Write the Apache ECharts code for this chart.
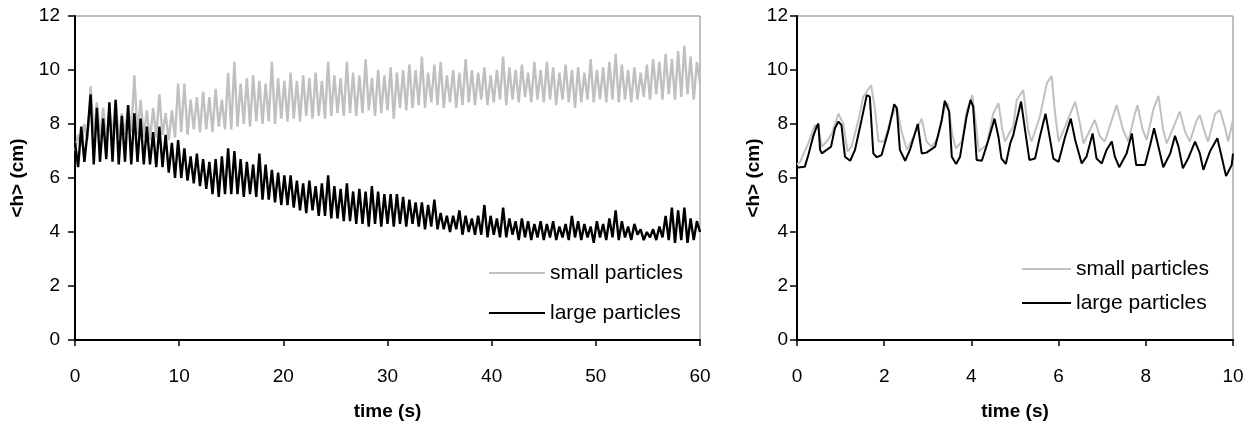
<!DOCTYPE html>
<html>
<head>
<meta charset="utf-8">
<script src="https://cdn.jsdelivr.net/npm/echarts@6/dist/echarts.min.js"></script>
<style>
html,body{margin:0;padding:0;background:#fff;}
#chart{width:1257px;height:429px;}
</style>
</head>
<body>
<div id="chart"></div>
<script>
// ---------- DATA ----------
const seriesNames = ['small particles', 'large particles'];
const yTicks = [0, 2, 4, 6, 8, 10, 12];
const leftXTicks = [0, 10, 20, 30, 40, 50, 60];
const rightXTicks = [0, 2, 4, 6, 8, 10];

// Left panel: sampled every 0.3 s from 0 to 60 s
const leftStep = 0.3;
const leftSmall = [
  7.0, 7.6, 7.2, 8.0, 7.4, 9.4, 7.6, 8.8, 7.5, 8.6,
  7.4, 8.5, 7.6, 8.9, 7.5, 8.4, 7.6, 8.7, 7.7, 9.8,
  7.6, 8.9, 7.5, 8.5, 7.4, 8.6, 7.5, 9.1, 7.6, 8.4,
  7.4, 8.5, 7.5, 9.5, 7.7, 9.5, 7.6, 8.9, 7.8, 9.0,
  7.7, 9.2, 7.8, 9.0, 7.7, 9.3, 7.9, 8.9, 7.8, 9.9,
  7.8, 10.3, 7.9, 9.5, 8.0, 9.7, 7.9, 9.8, 8.1, 9.6,
  8.0, 9.5, 8.1, 10.3, 8.0, 9.7, 8.2, 9.6, 8.1, 9.9,
  8.2, 9.6, 8.1, 9.8, 8.3, 9.7, 8.2, 9.9, 8.3, 9.6,
  8.2, 10.3, 8.3, 9.8, 8.4, 9.7, 8.3, 10.3, 8.4, 9.9,
  8.3, 9.8, 8.4, 10.4, 8.5, 9.7, 8.3, 10.0, 8.4, 9.8,
  8.5, 10.1, 8.2, 9.9, 8.6, 10.0, 8.5, 10.2, 8.6, 10.0,
  8.7, 10.5, 8.6, 9.9, 8.8, 10.2, 8.7, 10.3, 8.6, 9.8,
  8.8, 10.0, 8.6, 9.9, 8.7, 10.4, 8.8, 10.0, 8.7, 9.9,
  8.9, 10.1, 8.7, 9.8, 8.8, 10.0, 8.9, 10.5, 8.7, 10.1,
  8.9, 10.0, 8.8, 10.2, 9.0, 9.9, 8.8, 10.3, 8.9, 10.0,
  8.8, 10.3, 8.9, 10.1, 8.7, 9.9, 8.9, 10.2, 8.8, 10.0,
  8.6, 10.1, 8.8, 9.9, 8.9, 10.4, 8.8, 10.0, 8.9, 10.1,
  8.8, 10.3, 8.9, 10.6, 8.8, 10.2, 8.9, 10.0, 8.8, 10.1,
  8.9, 9.9, 9.0, 10.2, 8.9, 10.4, 9.1, 10.3, 8.9, 10.6,
  9.1, 10.4, 8.9, 10.7, 9.0, 10.9, 9.1, 10.5, 8.9, 10.3,
  9.5
];
const leftLarge = [
  7.3, 6.4, 7.9, 6.6, 7.7, 9.1, 6.5, 8.6, 6.6, 8.2,
  6.7, 8.8, 6.6, 8.9, 6.5, 8.3, 6.6, 8.7, 6.5, 8.4,
  6.6, 8.2, 6.5, 7.9, 6.5, 7.7, 6.4, 7.9, 6.4, 7.6,
  6.2, 7.3, 6.0, 7.4, 6.0, 7.1, 5.9, 6.8, 5.8, 6.9,
  5.7, 6.7, 5.6, 6.6, 5.4, 6.7, 5.3, 6.8, 5.4, 7.1,
  5.4, 7.0, 5.4, 6.7, 5.3, 6.6, 5.4, 6.5, 5.3, 6.9,
  5.2, 6.5, 5.2, 6.3, 5.1, 6.2, 5.0, 6.1, 5.0, 6.1,
  4.9, 5.9, 4.8, 5.8, 4.7, 5.9, 4.8, 5.7, 4.6, 5.8,
  4.6, 6.1, 4.5, 5.7, 4.5, 5.6, 4.4, 5.8, 4.4, 5.5,
  4.3, 5.6, 4.3, 5.5, 4.2, 5.7, 4.3, 5.5, 4.2, 5.4,
  4.3, 5.4, 4.2, 5.4, 4.3, 5.3, 4.2, 5.2, 4.3, 5.1,
  4.2, 5.1, 4.1, 5.0, 4.2, 5.2, 4.1, 4.7, 4.1, 4.6,
  4.0, 4.6, 4.1, 4.8, 3.9, 4.6, 4.0, 4.5, 3.9, 4.6,
  3.9, 5.0, 3.8, 4.6, 3.9, 4.5, 3.8, 4.9, 3.8, 4.5,
  3.9, 4.4, 3.7, 4.5, 3.8, 4.4, 3.7, 4.3, 3.8, 4.4,
  3.7, 4.3, 3.8, 4.4, 3.7, 4.2, 3.8, 4.3, 3.7, 4.6,
  3.8, 4.4, 3.7, 4.3, 3.8, 4.2, 3.6, 4.4, 3.8, 4.3,
  3.7, 4.5, 3.8, 4.8, 3.7, 4.4, 3.8, 4.2, 3.7, 4.3,
  3.9, 4.1, 3.7, 4.0, 3.8, 4.1, 3.7, 4.2, 3.8, 4.6,
  3.7, 4.9, 3.6, 4.8, 3.7, 4.9, 3.6, 4.5, 3.7, 4.4,
  4.0
];

// Right panel: first 10 s, read point by point
const rightSmallT = [0, 0.07, 0.26, 0.41, 0.49, 0.57, 0.68, 0.80, 0.95, 1.06, 1.16, 1.25, 1.41, 1.52, 1.70, 1.79, 1.87, 2.00, 2.17, 2.29, 2.39, 2.52, 2.67, 2.86, 2.97, 3.09, 3.24, 3.39, 3.46, 3.56, 3.64, 3.78, 3.89, 4.02, 4.12, 4.17, 4.35, 4.50, 4.62, 4.71, 4.77, 4.89, 4.96, 5.04, 5.19, 5.30, 5.38, 5.57, 5.73, 5.84, 5.92, 6.00, 6.15, 6.38, 6.49, 6.57, 6.72, 6.83, 6.95, 7.06, 7.22, 7.33, 7.48, 7.60, 7.75, 7.81, 7.92, 8.02, 8.17, 8.29, 8.40, 8.48, 8.67, 8.78, 8.90, 9.01, 9.17, 9.24, 9.36, 9.43, 9.59, 9.70, 9.82, 9.89, 10.0];
const rightSmallV = [6.5, 6.6, 7.28, 7.96, 7.84, 7.16, 7.35, 7.65, 8.38, 8.02, 6.98, 7.16, 8.15, 9.01, 9.44, 8.52, 7.35, 7.35, 8.27, 8.64, 7.78, 7.04, 7.53, 8.2, 7.35, 7.16, 7.53, 8.64, 8.77, 7.65, 7.1, 7.35, 8.46, 9.07, 7.78, 6.98, 7.22, 8.38, 8.77, 7.78, 7.35, 7.72, 7.9, 8.89, 9.26, 7.78, 7.35, 8.27, 9.51, 9.78, 8.38, 7.35, 7.9, 8.83, 8.02, 7.28, 7.78, 8.15, 7.53, 7.35, 8.15, 8.7, 7.78, 7.35, 8.38, 8.7, 7.84, 7.41, 8.52, 9.04, 7.78, 7.28, 8.02, 8.46, 7.72, 7.35, 8.15, 8.33, 7.65, 7.35, 8.38, 8.52, 7.84, 7.35, 8.15];

const rightLargeT = [0, 0.07, 0.18, 0.26, 0.37, 0.45, 0.49, 0.53, 0.57, 0.68, 0.78, 0.87, 0.95, 1.02, 1.10, 1.22, 1.33, 1.48, 1.60, 1.67, 1.75, 1.83, 1.94, 2.10, 2.23, 2.29, 2.36, 2.48, 2.59, 2.77, 2.86, 2.97, 3.17, 3.32, 3.39, 3.49, 3.55, 3.65, 3.74, 3.89, 3.98, 4.04, 4.12, 4.24, 4.39, 4.53, 4.62, 4.69, 4.79, 4.89, 4.96, 5.04, 5.14, 5.23, 5.33, 5.46, 5.57, 5.70, 5.78, 5.88, 6.00, 6.15, 6.28, 6.38, 6.53, 6.64, 6.78, 6.87, 6.99, 7.10, 7.22, 7.29, 7.39, 7.56, 7.68, 7.78, 7.98, 8.10, 8.19, 8.29, 8.40, 8.56, 8.67, 8.75, 8.85, 8.97, 9.13, 9.24, 9.32, 9.47, 9.64, 9.74, 9.84, 9.97, 10.0];
const rightLargeV = [6.38, 6.40, 6.42, 6.85, 7.53, 7.90, 8.02, 7.04, 6.91, 7.04, 7.16, 7.84, 8.09, 7.96, 6.79, 6.64, 7.04, 8.15, 9.07, 9.01, 6.91, 6.77, 6.85, 7.78, 8.73, 8.58, 7.04, 6.64, 7.04, 8.0, 6.91, 6.94, 7.16, 8.15, 8.86, 8.46, 6.79, 6.52, 6.79, 8.28, 8.89, 8.64, 6.67, 6.64, 7.41, 8.2, 7.53, 6.72, 6.52, 7.28, 7.59, 8.15, 8.83, 7.78, 6.67, 6.72, 7.53, 8.38, 7.65, 6.72, 6.6, 7.53, 8.2, 7.41, 6.54, 6.79, 7.65, 6.72, 6.54, 7.04, 7.35, 6.79, 6.40, 6.91, 7.65, 6.48, 6.48, 7.22, 7.84, 7.16, 6.40, 6.91, 7.56, 7.16, 6.36, 6.72, 7.35, 6.91, 6.30, 6.98, 7.47, 6.79, 6.07, 6.48, 6.9];

// ---------- BUILD ----------
function uniformPairs(vals, step) {
  return vals.map((v, i) => [+(i * step).toFixed(2), v]);
}
function zipPairs(ts, vs) {
  return ts.map((t, i) => [t, vs[i]]);
}

const FONT = '"Liberation Sans", Arial, sans-serif';
const GREY = '#C0C0C0';
const BLACK = '#000000';

function xAxisCfg(gridIndex, ticks) {
  return {
    type: 'value', gridIndex: gridIndex,
    min: ticks[0], max: ticks[ticks.length - 1], interval: ticks[1] - ticks[0],
    name: 'time (s)', nameLocation: 'middle', nameGap: 62,
    nameTextStyle: {fontFamily: FONT, fontSize: 19, fontWeight: 'bold', color: '#000'},
    axisLine: {onZero: false, lineStyle: {color: '#000', width: 2}},
    axisTick: {show: true, inside: false, length: 6, lineStyle: {color: '#000', width: 1.5}},
    axisLabel: {fontFamily: FONT, fontSize: 19, color: '#000', margin: 27},
    splitLine: {show: false}
  };
}
function yAxisCfg(gridIndex, gap, margin) {
  return {
    type: 'value', gridIndex: gridIndex,
    min: yTicks[0], max: yTicks[yTicks.length - 1], interval: yTicks[1] - yTicks[0],
    name: '<h> (cm)', nameLocation: 'middle', nameGap: gap, nameRotate: 90,
    nameTextStyle: {fontFamily: FONT, fontSize: 19, fontWeight: 'bold', color: '#000'},
    axisLine: {show: true, onZero: false, lineStyle: {color: '#000', width: 2}},
    axisTick: {show: true, inside: false, length: 7, lineStyle: {color: '#000', width: 1.5}},
    axisLabel: {fontFamily: FONT, fontSize: 19, color: '#000', margin: margin},
    splitLine: {show: false}
  };
}
function lineSeries(name, data, xi, yi, color, w) {
  return {
    name: name, type: 'line', xAxisIndex: xi, yAxisIndex: yi,
    data: data, showSymbol: false, symbol: 'none',
    lineStyle: {color: color, width: w}, itemStyle: {color: color},
    emphasis: {disabled: true}, silent: true
  };
}

const option = {
  animation: false,
  backgroundColor: '#ffffff',
  grid: [
    {left: 75, right: 557, top: 16, bottom: 89, show: true, borderColor: '#808080', borderWidth: 1, backgroundColor: 'transparent'},
    {left: 797, right: 24, top: 16, bottom: 89, show: true, borderColor: '#808080', borderWidth: 1, backgroundColor: 'transparent'}
  ],
  xAxis: [xAxisCfg(0, leftXTicks), xAxisCfg(1, rightXTicks)],
  yAxis: [yAxisCfg(0, 48, 15), yAxisCfg(1, 19, 9)],
  legend: [
    {orient: 'vertical', left: 489, top: 262, padding: 0, itemWidth: 56, itemHeight: 2, itemGap: 18, icon: 'rect',
     data: seriesNames, selectedMode: false, itemStyle: {borderWidth: 0},
     textStyle: {fontFamily: FONT, fontSize: 21, color: '#000', lineHeight: 22}},
    {orient: 'vertical', left: 1022, top: 258, padding: 0, itemWidth: 49, itemHeight: 2, itemGap: 12, icon: 'rect',
     data: seriesNames, selectedMode: false, itemStyle: {borderWidth: 0},
     textStyle: {fontFamily: FONT, fontSize: 21, color: '#000', lineHeight: 22}}
  ],
  series: [
    lineSeries(seriesNames[0], uniformPairs(leftSmall, leftStep), 0, 0, GREY, 2.4),
    lineSeries(seriesNames[1], uniformPairs(leftLarge, leftStep), 0, 0, BLACK, 2.4),
    lineSeries(seriesNames[0], zipPairs(rightSmallT, rightSmallV), 1, 1, GREY, 2),
    lineSeries(seriesNames[1], zipPairs(rightLargeT, rightLargeV), 1, 1, BLACK, 2)
  ]
};

const chart = echarts.init(document.getElementById('chart'), null, {renderer: 'canvas'});
chart.setOption(option);
</script>
</body>
</html>
